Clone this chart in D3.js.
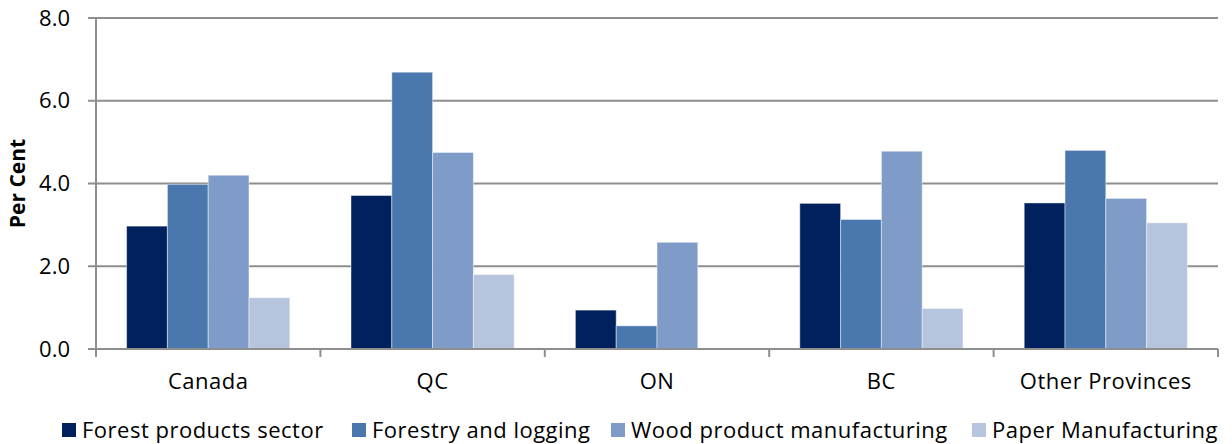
<!DOCTYPE html>
<html>
<head>
<meta charset="utf-8">
<script src="https://cdn.jsdelivr.net/npm/d3@7"></script>
<style>
  body { margin: 0; background: #fff; }
  svg text { font-family: "Open Sans", sans-serif; fill: #000; }
</style>
</head>
<body>
<div class="graph"></div>
<script>
// chart data
var categories = ["Canada", "QC", "ON", "BC", "Other Provinces"];
var seriesNames = ["Forest products sector", "Forestry and logging",
                   "Wood product manufacturing", "Paper Manufacturing"];
var forestProducts = [2.97, 3.71, 0.94, 3.52, 3.53];
var forestryLogging = [3.98, 6.69, 0.56, 3.13, 4.80];
var woodProducts   = [4.20, 4.75, 2.58, 4.78, 3.64];
var paperMfg       = [1.24, 1.80, 0.00, 0.98, 3.05];
var yTicks = [0, 2, 4, 6, 8];

var colors = ["#00215e", "#4a78ae", "#7f9cc8", "#b6c4de"];

var width = 1232, height = 444;
var plot = {left: 96, right: 1218, top: 18, bottom: 349};
var fontSize = 22;
var spacing = 0.5;

var svg = d3.select(".graph").append("svg")
    .attr("width", width)
    .attr("height", height);

var x0 = d3.scaleBand()
    .domain(categories)
    .range([plot.left, plot.right]);

// excel style gap width of 150% -> bars take 4 / 5.5 of the band
var gap = x0.bandwidth() * 0.75 / 5.5;
var x1 = d3.scaleBand()
    .domain(seriesNames)
    .range([gap, x0.bandwidth() - gap]);

var y = d3.scaleLinear().domain([0, 8]).range([plot.bottom, plot.top]);

var rows = seriesNames.map(function(name, i) {
    var vals = [forestProducts, forestryLogging, woodProducts, paperMfg][i];
    return categories.map(function(c, j) {
        return {series: name, cat: c, value: vals[j], color: colors[i]};
    });
});

// gridlines
svg.append("g")
    .selectAll("line")
    .data(yTicks)
    .join("line")
    .attr("x1", plot.left - 8)
    .attr("x2", plot.right)
    .attr("y1", function(d) { return y(d); })
    .attr("y2", function(d) { return y(d); })
    .attr("stroke", "#8e8e8e")
    .attr("stroke-width", 2);

// bars
svg.append("g")
    .selectAll("g")
    .data(rows)
    .join("g")
    .attr("fill", function(d) { return d[0].color; })
    .selectAll("rect")
    .data(function(d) { return d.filter(function(e) { return e.value > 0; }); })
    .join("rect")
    .attr("x", function(d) { return x0(d.cat) + x1(d.series); })
    .attr("y", function(d) { return y(d.value); })
    .attr("width", x1.bandwidth())
    .attr("height", function(d) { return y(0) - y(d.value); })
    .attr("stroke", "rgba(255,255,255,0.45)")
    .attr("stroke-width", 1);

// y axis
var yAxis = d3.axisLeft(y).tickValues(yTicks).tickSize(8).tickFormat(d3.format(".1f"));
var gy = svg.append("g")
    .attr("transform", "translate(" + plot.left + ",0)")
    .call(yAxis);
gy.select(".domain").attr("stroke", "#8e8e8e").attr("stroke-width", 2)
    .attr("d", "M0," + plot.top + "V" + (plot.bottom + 8));
gy.selectAll(".tick line").remove();
gy.selectAll(".tick text")
    .attr("x", -26)
    .attr("font-size", fontSize)
    .attr("font-family", "'Open Sans', sans-serif");

// x axis: category labels, ticks on band edges
var xAxis = d3.axisBottom(x0).tickSize(0).tickPadding(24);
var gx = svg.append("g")
    .attr("transform", "translate(0," + plot.bottom + ")")
    .call(xAxis);
gx.select(".domain").attr("stroke", "#8e8e8e").attr("stroke-width", 2)
    .attr("d", "M" + plot.left + ",0H" + plot.right);
gx.selectAll(".tick text")
    .attr("font-size", fontSize)
    .attr("letter-spacing", spacing)
    .attr("font-family", "'Open Sans', sans-serif");

svg.append("g")
    .selectAll("line")
    .data(categories)
    .join("line")
    .attr("x1", function(d) { return x0(d) + x0.bandwidth(); })
    .attr("x2", function(d) { return x0(d) + x0.bandwidth(); })
    .attr("y1", plot.bottom)
    .attr("y2", plot.bottom + 8)
    .attr("stroke", "#8e8e8e")
    .attr("stroke-width", 2);

// y axis title
svg.append("text")
    .attr("transform", "translate(25," + ((plot.top + plot.bottom) / 2) + ") rotate(-90)")
    .attr("text-anchor", "middle")
    .attr("font-size", 21)
    .attr("font-weight", "bold")
    .text("Per Cent");

// legend
var legendX = [62, 352, 611, 972];
var legend = svg.append("g")
    .selectAll("g")
    .data(seriesNames)
    .join("g")
    .attr("transform", function(d, i) { return "translate(" + legendX[i] + ",423)"; });
legend.append("rect")
    .attr("width", 14)
    .attr("height", 14)
    .attr("fill", function(d, i) { return colors[i]; });
legend.append("text")
    .attr("x", 20)
    .attr("y", 7)
    .attr("dy", "0.36em")
    .attr("font-size", fontSize)
    .attr("letter-spacing", spacing)
    .text(function(d) { return d; });
</script>
</body>
</html>
